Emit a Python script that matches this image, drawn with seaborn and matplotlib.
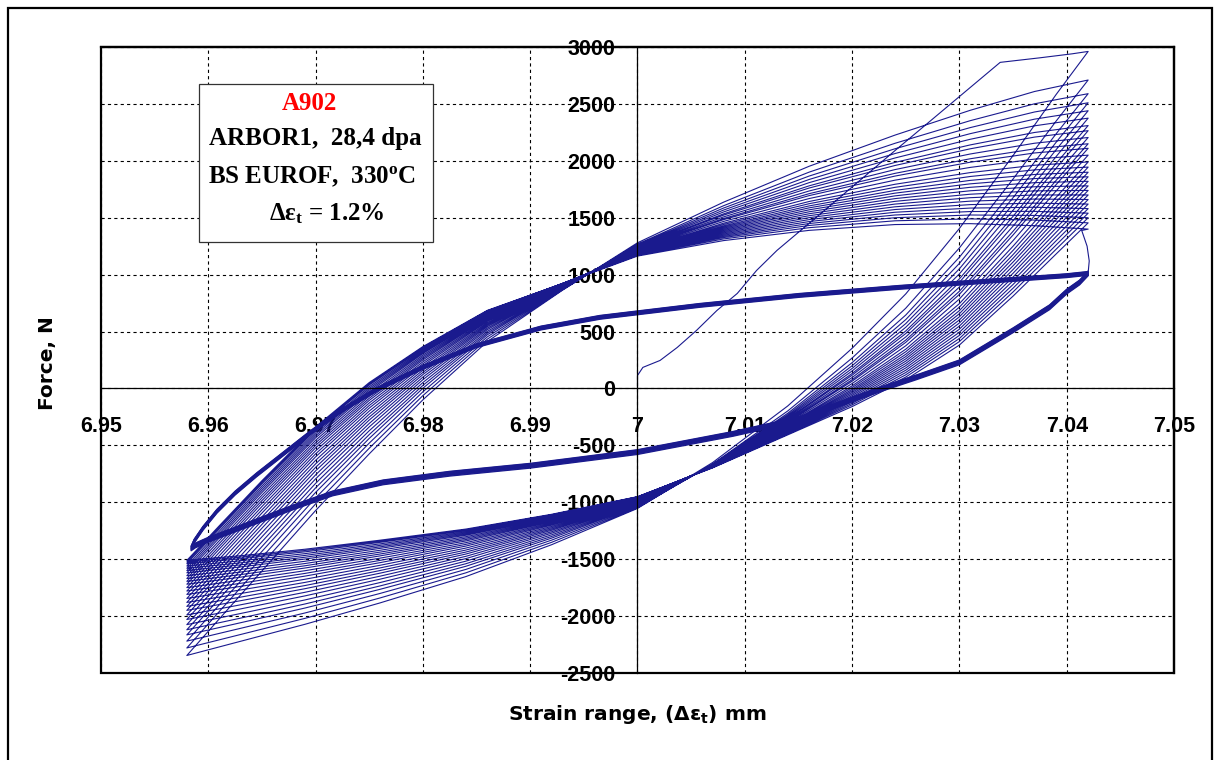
import numpy as np
import pandas as pd
import matplotlib
matplotlib.use("Agg")
import matplotlib.pyplot as plt
from matplotlib.patches import Rectangle
import seaborn as sns

# ---------------------------------------------------------------------------
# Data: low-cycle fatigue hysteresis of specimen A902 (strain in mm, force in N)
# ---------------------------------------------------------------------------
# monotonic first loading from the zero point
first_load_strain = [7.0000, 7.0000, 7.0005, 7.0021, 7.0037, 7.0055, 7.0074, 7.0093,
                     7.0111, 7.0130, 7.0180, 7.0240, 7.0300, 7.0338, 7.0375, 7.0405, 7.0420]
first_load_force = [0, 114, 185, 246, 360, 510, 685, 835,
                    1037, 1213, 1610, 2090, 2565, 2865, 2905, 2940, 2961]

# peak forces of the early cycles (tension at max strain, compression at min strain)
tension_peaks = [2710, 2590, 2510, 2440, 2375, 2310, 2265, 2205, 2150, 2110, 2050, 1990, 1945,
                 1900, 1860, 1820, 1780, 1740, 1700, 1660, 1620, 1580, 1540, 1500, 1455, 1400]
compression_peaks = [-2346, -2280, -2220, -2165, -2120, -2075, -2030, -1990, -1950, -1915,
                     -1880, -1845, -1810, -1780, -1750, -1720, -1695, -1670, -1645, -1620,
                     -1600, -1580, -1560, -1540, -1525, -1511]

# reference reloading branch (compression peak -> tension peak)
asc_strain = [6.958, 6.961, 6.965, 6.970, 6.975, 6.980, 6.986, 6.993,
              7.000, 7.008, 7.016, 7.024, 7.031, 7.037, 7.042]
asc_force = [-1900, -1590, -1180, -680, -240, 150, 560, 900,
             1230, 1480, 1690, 1860, 1980, 2060, 2100]
asc_w_left = [1, .98, .95, .88, .75, .56, .36, .18, .08, .02, 0, 0, 0, 0, 0]
asc_w_right = [0, 0, 0, 0, 0, 0, .02, .07, .14, .27, .43, .6, .76, .9, 1]

# reference unloading branch (tension peak -> compression peak)
desc_strain = [7.042, 7.039, 7.035, 7.030, 7.025, 7.020, 7.014, 7.007,
               7.000, 6.992, 6.984, 6.976, 6.969, 6.963, 6.958]
desc_force = [2100, 1780, 1340, 820, 400, 60, -300, -680,
              -1000, -1230, -1430, -1590, -1720, -1820, -1900]
desc_w_right = [1, .93, .82, .68, .5, .34, .18, .07, .02, 0, 0, 0, 0, 0, 0]
desc_w_left = [0, 0, 0, 0, 0, 0, .02, .07, .16, .32, .5, .66, .79, .9, 1]

# drop of the tension peak before the stabilised loops
transition_strain = [7.0414, 7.0419, 7.0421, 7.0420]
transition_force = [1388, 1250, 1120, 1019]

# stabilised loops (many overlapping cycles)
thick_desc_strain = [7.0420, 7.0412, 7.0400, 7.0384, 7.0350, 7.0300, 7.0260, 7.0229, 7.0198,
                     7.0151, 7.0089, 7.0000, 6.9900, 6.9825, 6.9763, 6.9716, 6.9679, 6.9623,
                     6.9600, 6.9588, 6.9584]
thick_desc_force = [1010, 930, 850, 712, 510, 228, 97, 0, -105,
                    -270, -400, -560, -680, -750, -826, -923, -1046, -1248,
                    -1330, -1380, -1406]
thick_asc_strain = [6.9584, 6.9587, 6.9595, 6.9608, 6.9625, 6.9645, 6.9668, 6.9695, 6.9725,
                    6.9758, 6.9800, 6.9850, 6.9910, 6.9965, 7.0058, 7.0151, 7.0245, 7.0338,
                    7.0400, 7.0420]
thick_asc_force = [-1406, -1340, -1230, -1080, -920, -760, -590, -390, -190,
                   -5, 185, 375, 530, 624, 729, 817, 888, 949,
                   990, 1010]
thick_cycle_shift = [-20, -14, -9, -4, 0, 4, 9, 14, 18, 22]

x_ticks = [6.95, 6.96, 6.97, 6.98, 6.99, 7.00, 7.01, 7.02, 7.03, 7.04, 7.05]
x_tick_labels = ["6.95", "6.96", "6.97", "6.98", "6.99", "7", "7.01", "7.02", "7.03", "7.04", "7.05"]
y_ticks = [-2500, -2000, -1500, -1000, -500, 0, 500, 1000, 1500, 2000, 2500, 3000]
y_tick_labels = ["-2500", "-2000", "-1500", "-1000", "-500", "0", "500", "1000",
                 "1500", "2000", "2500", "3000"]

# ---------------------------------------------------------------------------
# Assemble the load path
# ---------------------------------------------------------------------------
def branch(ref_f, w_lo, w_hi, f_lo, f_hi, lo_ref, hi_ref):
    ref_f = np.asarray(ref_f, float)
    return ref_f + np.asarray(w_lo) * (f_lo - lo_ref) + np.asarray(w_hi) * (f_hi - hi_ref)

path_x = list(first_load_strain)
path_f = list(first_load_force)
top = first_load_force[-1]
for c_pk, t_pk in zip(compression_peaks, tension_peaks):
    f_down = branch(desc_force, desc_w_left, desc_w_right, c_pk, top, desc_force[-1], desc_force[0])
    path_x += desc_strain[1:]
    path_f += list(f_down[1:])
    f_up = branch(asc_force, asc_w_left, asc_w_right, c_pk, t_pk, asc_force[0], asc_force[-1])
    path_x += asc_strain[1:]
    path_f += list(f_up[1:])
    top = t_pk
path_x += transition_strain
path_f += transition_force

thin = pd.DataFrame({"strain": path_x, "force": path_f})

tx, tf, tc = [], [], []
for k, s in enumerate(thick_cycle_shift):
    xs = thick_desc_strain + thick_asc_strain[1:]
    fs = [f + s for f in thick_desc_force] + [f + s * 0.8 for f in thick_asc_force[1:]]
    tx += xs
    tf += fs
    tc += [k] * len(xs)
thick = pd.DataFrame({"strain": tx, "force": tf, "cycle": tc})

# ---------------------------------------------------------------------------
# Figure
# ---------------------------------------------------------------------------
sns.set_theme(style="white")
plt.rcParams["font.family"] = ["Liberation Sans", "DejaVu Sans"]
plt.rcParams["mathtext.fontset"] = "custom"
plt.rcParams["mathtext.rm"] = "Liberation Serif:bold"
plt.rcParams["mathtext.it"] = "Liberation Serif:bold:italic"
plt.rcParams["mathtext.bf"] = "Liberation Serif:bold"
plt.rcParams["lines.scale_dashes"] = False

W, H = 1217, 760
fig = plt.figure(figsize=(W / 100, H / 100), dpi=100)
fig.patch.set_facecolor("white")
ax = fig.add_axes([101 / W, 1 - 673 / H, (1174 - 101) / W, (673 - 47) / H])
ax.set_facecolor("white")

line_color = "#1a1a8e"
sns.lineplot(data=thin, x="strain", y="force", estimator=None, sort=False,
             color=line_color, linewidth=0.8, ax=ax, legend=False)
sns.lineplot(data=thick, x="strain", y="force", units="cycle", estimator=None, sort=False,
             color=line_color, linewidth=0.9, ax=ax, legend=False)

ax.set_xlim(6.95, 7.05)
ax.set_ylim(-2500, 3000)
ax.set_xticks(x_ticks)
ax.set_xticklabels(x_tick_labels)
ax.set_yticks(y_ticks)
ax.set_yticklabels(y_tick_labels)
ax.set_xlabel("")
ax.set_ylabel("")

ax.grid(True, color="black", linewidth=0.8, linestyle=(0, (2.3, 2.3)))
ax.set_axisbelow(True)

# axes crossing at the origin of the test (7 mm, 0 N)
ax.spines["left"].set_position(("data", 7.0))
ax.spines["bottom"].set_position(("data", 0))
for side in ("left", "bottom"):
    ax.spines[side].set_linewidth(0.9)
    ax.spines[side].set_color("black")
for side in ("top", "right"):
    ax.spines[side].set_linewidth(1.6)
    ax.spines[side].set_color("black")
ax.add_patch(Rectangle((0, 0), 1, 1, transform=ax.transAxes, fill=False,
                       edgecolor="black", linewidth=1.6, clip_on=False, zorder=5))

ax.tick_params(axis="both", length=0, labelsize=15.5, colors="black")
ax.tick_params(axis="y", pad=16)
ax.tick_params(axis="x", pad=20)
for lab in ax.get_xticklabels() + ax.get_yticklabels():
    lab.set_fontweight("bold")
    lab.set_fontfamily("Liberation Sans")

# annotation box
ax.add_patch(Rectangle(((199 - 101) / 1073, (673 - 242) / 626), 234 / 1073, 158 / 626,
                       transform=ax.transAxes, facecolor="white", edgecolor="#333333",
                       linewidth=0.9, zorder=6))


def fig_text(px, py, s, **kw):
    fig.text(px / W, 1 - py / H, s, **kw)


serif = dict(family="Liberation Serif", weight="bold", fontsize=18, ha="center",
             va="center", zorder=7, math_fontfamily="custom")
fig_text(309, 104, "A902", color="#ff0000", **serif)
fig_text(315, 138, "ARBOR1,  28,4 dpa", color="black", **serif)
fig_text(312, 177, r"BS EUROF,  330$^{\rm o}$C", color="black", **serif)
fig_text(327, 214, r"Δε$_{\rm t}$ = 1.2%", color="black", **serif)

fig_text(48, 363, "Force, N", rotation=90, ha="center", va="center",
         family="DejaVu Sans", weight="bold", fontsize=14.5, color="black")
fig_text(637, 715, r"Strain range, (Δε$_\mathbf{t}$) mm", ha="center", va="center",
         family="DejaVu Sans", weight="bold", fontsize=14.5, color="black",
         math_fontfamily="dejavusans")

# outer frame of the figure
fig.patches.append(Rectangle((8 / W, -0.02), (1212 - 8) / W, 1 - 8 / H + 0.02,
                             transform=fig.transFigure, fill=False,
                             edgecolor="black", linewidth=1.6))

fig.savefig("out.png", dpi=100, facecolor="white")
